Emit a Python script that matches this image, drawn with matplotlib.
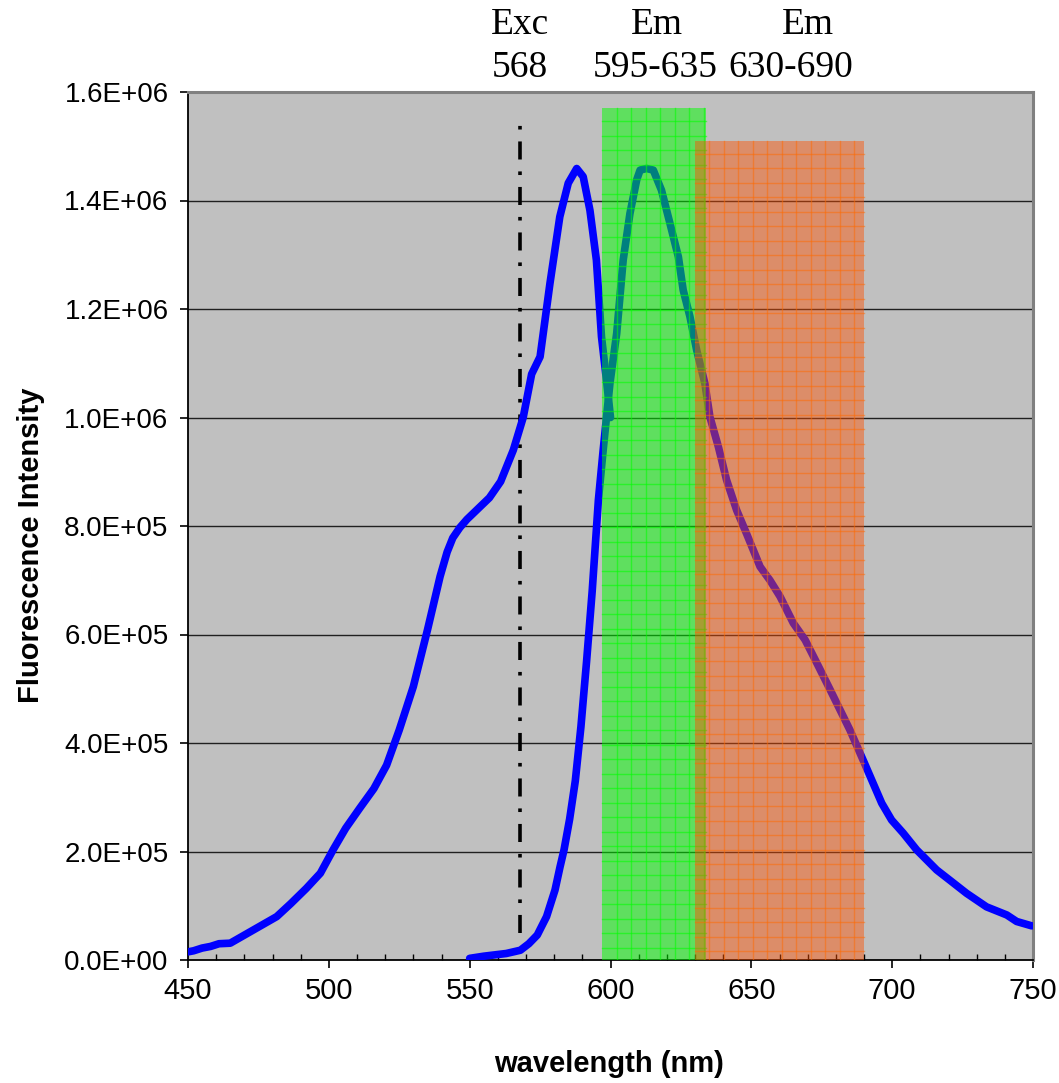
import numpy as np
import matplotlib
matplotlib.use("Agg")
import matplotlib.pyplot as plt
from matplotlib.patches import Rectangle
from matplotlib.ticker import MultipleLocator, FuncFormatter

# ---------------- data ----------------
exc_wl = [450, 452, 455, 458, 461, 465, 481.5, 486.5, 492, 497, 501.5, 506, 511, 516,
          520.5, 525, 530, 535, 539.5, 542, 544, 546.5, 549, 553, 557, 561, 565.5, 569,
          572, 575, 578.5, 582, 585, 588, 590.3, 592.7, 595, 596.8, 598.7, 600]
exc_int = [0.015, 0.017, 0.022, 0.025, 0.030, 0.031, 0.080, 0.104, 0.132, 0.160, 0.203,
           0.243, 0.280, 0.316, 0.359, 0.424, 0.504, 0.608, 0.707, 0.752, 0.778, 0.797,
           0.812, 0.832, 0.852, 0.882, 0.940, 1.000, 1.080, 1.112, 1.247, 1.370, 1.432,
           1.459, 1.444, 1.382, 1.290, 1.149, 1.063, 1.000]

em_wl = [550, 555, 563, 568, 571, 574, 577.3, 580.3, 582.1, 583.5, 585.5, 587.5, 589.5,
         591.5, 593.5, 595.7, 597.4, 599.8, 602.2, 604.5, 606.9, 609.3, 610.5, 612.8,
         615.2, 618.1, 621.1, 624.1, 625.8, 628.2, 630.6, 633.5, 635.3, 638.3, 641.2,
         644.8, 648.3, 653.1, 656.6, 660.2, 664.9, 669.1, 673, 678, 681.5, 685, 690.4,
         696.3, 699.8, 703.9, 708.7, 715.8, 720.5, 726.4, 733.5, 740.7, 744.2, 749.5]
em_int = [0.003, 0.007, 0.012, 0.018, 0.030, 0.046, 0.080, 0.129, 0.172, 0.203, 0.260,
          0.330, 0.430, 0.550, 0.680, 0.848, 0.940, 1.063, 1.155, 1.290, 1.376, 1.438,
          1.456, 1.459, 1.456, 1.419, 1.358, 1.296, 1.235, 1.186, 1.124, 1.063, 1.001,
          0.946, 0.885, 0.829, 0.786, 0.725, 0.700, 0.670, 0.621, 0.590, 0.550, 0.498,
          0.461, 0.424, 0.360, 0.289, 0.258, 0.234, 0.203, 0.166, 0.147, 0.123, 0.098,
          0.083, 0.071, 0.063]

exc_line = 568
exc_line_range = [0.05e6, 1.54e6]
band_green = [597, 634, 1.57e6]   # start, end, height
band_orange = [630, 690, 1.51e6]
band_labels = [("Exc", "568"), ("Em", "595-635"), ("Em", "630-690")]

# ---------------- figure ----------------
W, H = 1059, 1083
fig = plt.figure(figsize=(W / 100, H / 100), dpi=100)
ax = fig.add_axes([188 / W, 1 - 960 / H, (1033 - 188) / W, (960 - 92) / H])
ax.set_facecolor("#C0C0C0")
ax.set_xlim(450, 750)
ax.set_ylim(0, 1.6e6)

# gridlines
for yv in np.arange(2e5, 1.6e6, 2e5):
    ax.axhline(yv, color="#202020", lw=1.0, zorder=1)

# curves
for xs, ys in [(exc_wl, exc_int), (em_wl, em_int)]:
    ax.plot(xs, np.array(ys) * 1e6, color="#0000FF", lw=5.5, solid_joinstyle="round",
            solid_capstyle="round", zorder=3)

# excitation line
ax.plot([exc_line, exc_line], exc_line_range, color="black", lw=2.6,
        linestyle=(0, (5.0, 3.3, 1.0, 3.3)), dash_capstyle="butt", zorder=2)

# bands with grid texture
def band(x0, x1, top, fc, alpha, lc, lalpha, zo):
    ax.add_patch(Rectangle((x0, 0), x1 - x0, top, facecolor=fc, alpha=alpha,
                           edgecolor="none", zorder=zo))
    dx = 14.5 / 2.8167
    for xv in np.arange(x0 + dx, x1, dx):
        ax.plot([xv, xv], [0, top], color=lc, alpha=lalpha, lw=1.0, zorder=zo)
    dy = 14.5 / 542.5 * 1e6
    for yv in np.arange(top - dy * 0.9, 0, -dy):
        ax.plot([x0, x1], [yv, yv], color=lc, alpha=lalpha, lw=1.0, zorder=zo)

band(band_green[0], band_green[1], band_green[2], "#00FF00", 0.5, "#00FF00", 0.55, 4)
band(band_orange[0], band_orange[1], band_orange[2], "#FF5000", 0.45, "#FF6A00", 0.5, 5)

# spines
for s in ["left", "bottom"]:
    ax.spines[s].set_color("black")
    ax.spines[s].set_linewidth(1.3)
for s in ["top", "right"]:
    ax.spines[s].set_color("#808080")
    ax.spines[s].set_linewidth(2.2)

# ticks
ax.xaxis.set_major_locator(MultipleLocator(50))
ax.xaxis.set_minor_locator(MultipleLocator(10))
ax.yaxis.set_major_locator(MultipleLocator(2e5))
ax.tick_params(axis="x", which="major", direction="out", length=6, width=1.2, pad=6,
               labelsize=21, colors="black")
ax.tick_params(axis="x", which="minor", direction="in", length=4, width=1.0)
ax.tick_params(axis="y", which="major", direction="out", length=6, width=1.2, pad=8,
               labelsize=20)


def fmt(v, p):
    if v == 0:
        return "0.0E+00"
    e = int(np.floor(np.log10(abs(v)) + 1e-9))
    m = v / 10 ** e
    return "{:.1f}E+{:02d}".format(m, e)


ax.yaxis.set_major_formatter(FuncFormatter(fmt))
for lab in ax.get_xticklabels() + ax.get_yticklabels():
    lab.set_family("Liberation Sans")

# axis labels
fig.text(609.5 / W, 1 - 1072 / H, "wavelength (nm)", ha="center", va="baseline",
         fontsize=21, fontweight="bold", family="Liberation Sans")
fig.text(31 / W, 1 - 545 / H, "Fluorescence Intensity", ha="center", va="center",
         rotation=90, fontsize=21, fontweight="bold", family="Liberation Sans")

# band labels
top_pos = [(520, 520), (657, 655), (808, 791)]
for (l1, l2), (x1, x2) in zip(band_labels, top_pos):
    fig.text(x1 / W, 1 - 34 / H, l1, ha="center", va="baseline", fontsize=27,
             family="Liberation Serif")
    fig.text(x2 / W, 1 - 77 / H, l2, ha="center", va="baseline", fontsize=27,
             family="Liberation Serif")

fig.savefig("out.png", dpi=100, facecolor="white")
